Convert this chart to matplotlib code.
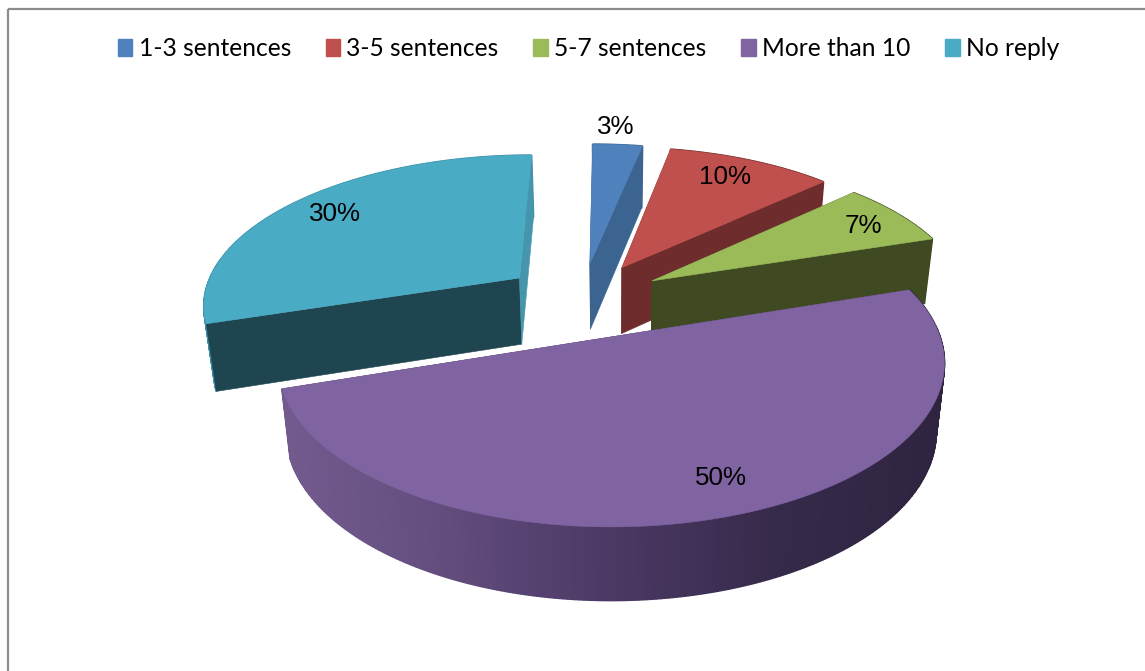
import numpy as np
import matplotlib
matplotlib.use("Agg")
import matplotlib.pyplot as plt
from matplotlib.patches import Patch, Polygon, Rectangle
from matplotlib.collections import PolyCollection
from matplotlib.colors import to_rgb

categories = ["1-3 sentences", "3-5 sentences", "5-7 sentences", "More than 10", "No reply"]
values = [3, 10, 7, 50, 30]
value_labels = ["3%", "10%", "7%", "50%", "30%"]

top_colors = ["#4F81BD", "#C0504D", "#9BBB59", "#8064A2", "#4AABC5"]
start_wall_colors = ["#3C6491", "#6E2C2C", "#3F4A22", "#4A3A60", "#1F4550"]
end_wall_colors = ["#3C6491", "#6E2C2C", "#3F4A22", "#4A3A60", "#4596AC"]
label_xy = [(616, 127), (725, 177), (863, 226), (721, 478), (335, 214)]

# Projection of the tilted disc onto the image
CX, CY, RX, RY, K = 611.5, 337.0, 329.0, 159.6, 0.16
ORIGIN = np.array([-0.089, 0.243])
EXPLODE = 0.255
SLICE_SHIFT_U = [-0.006, 0.0, 0.0, 0.009, -0.002]
DEPTH = 68.0
CONVERGE = 0.025


def project(u, v):
    w = 1 + K * v
    return CX + RX * u / w, CY - RY * v / w


def lower(u, v):
    x, y = project(u, v)
    w = 1 + K * v
    return x + (CX - x) * CONVERGE, y + DEPTH * w ** -0.45


fig = plt.figure(figsize=(11.45, 6.71), dpi=100, facecolor="white")
ax = fig.add_axes([0, 0, 1, 1])
ax.set_xlim(0, 1145)
ax.set_ylim(671, 0)
ax.axis("off")

ax.add_patch(Rectangle((7.5, 8.5), 1300, 800, fill=False, edgecolor="#8C8C8C", linewidth=1.6, zorder=1))

fractions = np.array(values, dtype=float) / sum(values)
starts = np.concatenate([[0], np.cumsum(fractions)[:-1]]) * 2 * np.pi
ends = np.cumsum(fractions) * 2 * np.pi
order = [0, 1, 2, 4, 3]
z = 2
for i in order:
    a0, a1 = starts[i], ends[i]
    mid = (a0 + a1) / 2
    apex = ORIGIN + EXPLODE * np.array([np.sin(mid), np.cos(mid)])
    apex[0] += SLICE_SHIFT_U[i]
    angles = np.linspace(a0, a1, max(8, int((a1 - a0) * 90)))
    us = apex[0] + np.sin(angles)
    vs = apex[1] + np.cos(angles)
    tx, ty = project(us, vs)
    bx, by = lower(us, vs)
    ax_, ay_ = project(*apex)
    lx, ly = lower(*apex)

    # outer rim, darkening to the right for the large slice
    quads = [[(tx[j], ty[j]), (tx[j + 1], ty[j + 1]), (bx[j + 1], by[j + 1]), (bx[j], by[j])]
             for j in range(len(angles) - 1)]
    if i == 3:
        xm = (tx[:-1] + tx[1:]) / 2
        stops_x = [285, 420, 600, 780, 945]
        stops = np.array([to_rgb(c) for c in ["#735A8E", "#654F80", "#4C3A66", "#362A4A", "#2E2440"]])
        cols = np.column_stack([np.interp(xm, stops_x, stops[:, c]) for c in range(3)])
    else:
        cols = [end_wall_colors[i]] * len(quads) if i != 4 else ["#3F90A8"] * len(quads)
    rim_z = z + 3 if i == 3 else z
    ax.add_collection(PolyCollection(quads, facecolors=cols, edgecolors=cols, linewidths=1.3,
                                     joinstyle="bevel", zorder=rim_z))
    # radial walls
    ax.add_patch(Polygon([(ax_, ay_), (tx[0], ty[0]), (bx[0], by[0]), (lx, ly)],
                         closed=True, facecolor=start_wall_colors[i], edgecolor=start_wall_colors[i], linewidth=0.4, zorder=z + 1))
    ax.add_patch(Polygon([(ax_, ay_), (tx[-1], ty[-1]), (bx[-1], by[-1]), (lx, ly)],
                         closed=True, facecolor=end_wall_colors[i], edgecolor=end_wall_colors[i], linewidth=0.4, zorder=z + 2))
    # top face
    ax.add_patch(Polygon(np.column_stack([np.r_[ax_, tx], np.r_[ay_, ty]]), closed=True,
                         facecolor=top_colors[i], edgecolor=top_colors[i], linewidth=0.4, zorder=z + 4))
    z += 5

for label, (x, y) in zip(value_labels, label_xy):
    ax.text(x, y, label, ha="center", va="center", fontsize=18.7, family="Liberation Sans",
            color="black", zorder=100)

handles = [Patch(facecolor=c, edgecolor=c, label=n) for c, n in zip(top_colors, categories)]
ax.legend(handles=handles, loc="center", bbox_to_anchor=(588.5 / 1145, 1 - 48.5 / 671), ncol=5, frameon=False,
          prop={"family": "Lato", "size": 17.7}, handlelength=0.6, handleheight=0.7,
          handletextpad=0.25, columnspacing=1.41, borderpad=0, borderaxespad=0)

fig.savefig("out.png", dpi=100)
